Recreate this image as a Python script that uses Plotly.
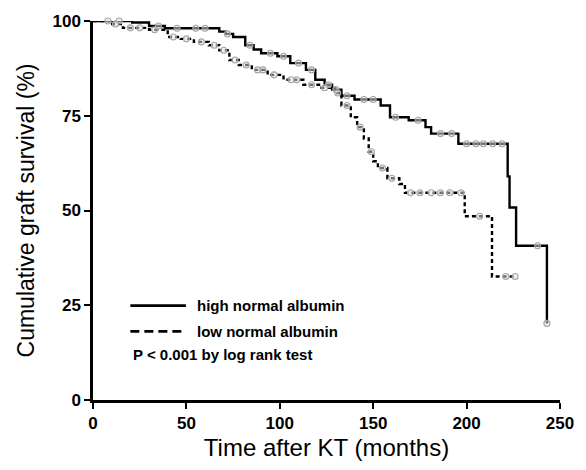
import numpy as np
import plotly.graph_objects as go

# Kaplan-Meier step data (time in months, survival %)
high_t = [0, 21, 30, 38.5, 67.6, 71, 75, 81.5, 86, 90, 98.7, 105.6, 114, 119, 124, 128, 133, 140,
          154, 159, 169, 178, 181, 195.6, 222, 223, 226.5, 243]
high_s = [100, 99.6, 98.7, 98.1, 97.2, 96.6, 95.8, 93.6, 92.5, 91.5, 90.7, 88.9, 87.1, 84.5, 83.2,
          81.9, 80.3, 79.3, 77.7, 74.6, 73.8, 72.0, 70.3, 67.6, 59.0, 50.8, 40.7, 20.2]

low_t = [0, 9, 16, 30, 40, 47, 54, 62, 67.6, 73, 78, 85, 93.5, 102, 112.6, 121, 129.6, 133, 138,
         141.4, 145, 147.6, 150, 152.5, 157.6, 164, 167, 199, 213.6, 226]
low_s = [100, 99.2, 98.2, 97.7, 95.8, 95.3, 94.5, 93.6, 92.3, 89.7, 88.4, 87.1, 85.8, 84.5, 83.2,
         82.4, 81.0, 77.7, 74.6, 72.0, 69.0, 65.5, 63.0, 61.2, 58.5, 57.0, 54.7, 48.5, 32.6, 32.6]

# censoring times
high_cens = [8, 14, 35, 45, 55, 60, 72, 84, 95, 102, 110, 117, 126, 130, 136, 145, 150, 162, 174,
             186, 192, 200, 205, 209, 214, 219, 238, 243]
low_cens = [12, 20, 25, 33, 43, 50, 58, 65, 70, 76, 82, 88, 91, 97, 106, 109, 117, 124, 131, 136,
            143, 149, 155, 160, 170, 175, 181, 186, 191, 197, 207, 221, 226]

x_ticks = [0, 50, 100, 150, 200, 250]
y_ticks = [0, 25, 50, 75, 100]


def step_lookup(ts, ss, t):
    idx = np.searchsorted(np.array(ts), t, side="right") - 1
    return ss[max(idx, 0)]


fig = go.Figure()
fig.add_trace(go.Scatter(x=high_t, y=high_s, mode="lines", line=dict(color="black", width=2.4, shape="hv"),
                         cliponaxis=False, showlegend=False))
fig.add_trace(go.Scatter(x=low_t, y=low_s, mode="lines",
                         line=dict(color="black", width=2.4, shape="hv", dash="4px,3px"),
                         cliponaxis=False, showlegend=False))
marker = dict(symbol="circle", size=6, color="rgba(225,225,225,0.5)", line=dict(color="#a5a5a5", width=1.1))
fig.add_trace(go.Scatter(x=high_cens, y=[step_lookup(high_t, high_s, t) for t in high_cens], mode="markers",
                         marker=marker, cliponaxis=False, showlegend=False))
fig.add_trace(go.Scatter(x=low_cens, y=[step_lookup(low_t, low_s, t) for t in low_cens], mode="markers",
                         marker=marker, cliponaxis=False, showlegend=False))

font_family = "Liberation Sans, Arial, sans-serif"

# legend drawn manually
fig.add_shape(type="line", xref="paper", yref="paper", x0=0.08, x1=0.199, y0=0.249, y1=0.249,
              line=dict(color="black", width=2.6))
fig.add_shape(type="line", xref="paper", yref="paper", x0=0.08, x1=0.199, y0=0.181, y1=0.181,
              line=dict(color="black", width=2.6, dash="9px,5px"))
legend_font = dict(family=font_family, size=15, color="black", weight="bold")
fig.add_annotation(xref="paper", yref="paper", x=0.218, y=0.249, text="high normal albumin", showarrow=False,
                   xanchor="left", yanchor="middle", font=legend_font)
fig.add_annotation(xref="paper", yref="paper", x=0.218, y=0.181, text="low normal albumin", showarrow=False,
                   xanchor="left", yanchor="middle", font=legend_font)
fig.add_annotation(xref="paper", yref="paper", x=0.082, y=0.119, text="P < 0.001 by log rank test", showarrow=False,
                   xanchor="left", yanchor="middle", font=legend_font)

fig.update_layout(
    width=586, height=470,
    margin=dict(l=93, r=14, t=17, b=67),
    paper_bgcolor="white", plot_bgcolor="white",
    font=dict(family=font_family, color="black"),
)
fig.update_xaxes(range=[-0.01, 250.01], tickvals=x_ticks, showgrid=False, zeroline=False, showline=True,
                 linecolor="black", linewidth=2.5, ticks="outside", ticklen=6, tickwidth=2.2, tickcolor="black",
                 ticklabeloverflow="allow",
                 tickfont=dict(size=17, color="black", weight="bold"),
                 title=dict(text="Time after KT (months)", font=dict(size=24, color="black"), standoff=8))
fig.update_yaxes(range=[-0.01, 100.01], tickvals=y_ticks, showgrid=False, zeroline=False, showline=True,
                 linecolor="black", linewidth=2.5, ticks="outside", ticklen=6, tickwidth=2.2, tickcolor="black",
                 ticklabeloverflow="allow",
                 tickfont=dict(size=17, color="black", weight="bold"),
                 title=dict(text="Cumulative graft survival (%)", font=dict(size=23, color="black"), standoff=12))

fig.write_html("out.html")
